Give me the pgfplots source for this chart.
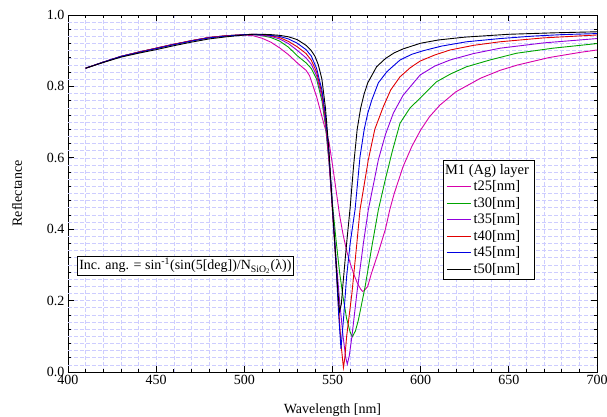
\documentclass[border=0pt]{standalone}
\usepackage{fontspec}
\setmainfont{Liberation Serif}
\usepackage{pgfplots}
\pgfplotsset{compat=1.18}
\definecolor{cmag}{RGB}{215,0,170}
\definecolor{cgreen}{RGB}{0,165,0}
\definecolor{cpurple}{RGB}{145,0,220}
\definecolor{cred}{RGB}{225,0,0}
\definecolor{cblue}{RGB}{0,0,225}
\definecolor{gridblue}{RGB}{205,205,255}
\begin{document}
\begin{tikzpicture}
\begin{axis}[name=ax, scale only axis, width=529pt, height=357pt,
  xmin=400, xmax=700, ymin=0, ymax=1,
  xtick={400,450,...,700}, ytick={0,0.2,0.4,0.6,0.8,1.0},
  minor x tick num=4, minor y tick num=4,
  tick align=inside, major tick length=6pt, minor tick length=3pt,
  axis line style={line width=0.8pt}, tick style={line width=0.7pt, black},
  grid=both,
  major grid style={dash pattern=on 4pt off 2pt, gridblue, line width=0.6pt},
  minor grid style={dash pattern=on 4pt off 2pt, gridblue, line width=0.6pt},
  extra y ticks={0.02,0.06,0.10,0.14,0.18,0.22,0.26,0.30,0.34,0.38,0.42,0.46,0.50,0.54,0.58,0.62,0.66,0.70,0.74,0.78,0.82,0.86,0.90,0.94,0.98},
  extra y tick style={grid=major, major tick length=0pt, yticklabels={}},
  /pgf/number format/assume math mode=true,
  tick label style={font=\fontsize{14}{16}\selectfont},
  yticklabel style={/pgf/number format/fixed, /pgf/number format/fixed zerofill, /pgf/number format/precision=1, /pgf/number format/assume math mode=true},
  xticklabel style={/pgf/number format/fixed, /pgf/number format/assume math mode=true},
  xlabel={Wavelength [nm]}, ylabel={Reflectance},
  label style={font=\fontsize{14}{16}\selectfont},
  xlabel style={at={(axis description cs:0.5,-0.115)}, anchor=base},
  ylabel style={at={(axis description cs:-0.0964,0.5)}, anchor=center},
  legend style={at={(0.709,0.594)}, anchor=north west, draw=black, line width=0.6pt,
    font=\fontsize{14.5}{17}\selectfont, row sep=0pt,
    nodes={inner ysep=1pt, inner xsep=2pt, text height=11pt, text depth=3.5pt}},
  legend cell align=left,
  legend image code/.code={\draw[#1, line width=1pt] (0cm,0cm) -- (0.85cm,0cm);},
  every axis plot/.append style={line width=0.9pt},
]
\addlegendimage{empty legend}
\addlegendentry{\hspace{-1.0cm}M1 (Ag) layer}
% t25 magenta
\addplot[draw=cmag] coordinates {
(410,0.851)(420,0.868)(430,0.884)(440,0.896)(450,0.907)(460,0.918)(470,0.928)(480,0.937)(490,0.942)(500,0.944)
(505,0.942)(510,0.935)(515,0.924)(520,0.908)(525,0.889)(530,0.866)(535,0.845)(537,0.830)(541,0.771)(545,0.697)
(548,0.645)(550,0.58)(552,0.51)(554,0.44)(556,0.385)(558,0.34)(560,0.305)(562,0.275)(564,0.25)(566,0.232)(567,0.226)
(568,0.228)(570,0.24)(572,0.275)(576,0.335)(580,0.40)(582.5,0.455)(585,0.50)(590,0.575)(595,0.632)(600,0.678)
(605,0.715)(611,0.748)(620,0.785)(634,0.823)(645,0.845)(655,0.86)(673,0.881)(690,0.895)(700,0.902)};
\addlegendentry{t25[nm]}
% t30 green
\addplot[draw=cgreen] coordinates {
(410,0.851)(420,0.868)(430,0.884)(440,0.896)(450,0.907)(460,0.918)(470,0.928)(480,0.937)(490,0.942)(500,0.945)
(505,0.945)(510,0.942)(515,0.937)(520,0.927)(525,0.910)(530,0.886)(535,0.866)(538,0.850)(541,0.820)(544,0.760)
(546,0.690)(548,0.590)(550,0.47)(552,0.37)(554,0.28)(556,0.21)(558,0.15)(560,0.112)(561.3,0.099)(563,0.115)
(564.7,0.146)(568.5,0.239)(572.3,0.351)(576,0.454)(580,0.54)(584,0.62)(588.3,0.697)(594,0.74)(599.7,0.767)
(609,0.813)(617,0.835)(626,0.855)(640,0.875)(654.5,0.893)(675,0.907)(700,0.920)};
\addlegendentry{t30[nm]}
% t35 purple
\addplot[draw=cpurple] coordinates {
(410,0.851)(420,0.868)(430,0.884)(440,0.896)(450,0.907)(460,0.918)(470,0.928)(480,0.937)(490,0.942)(500,0.945)
(505,0.945)(510,0.943)(515,0.940)(520,0.933)(525,0.920)(530,0.901)(535,0.880)(538,0.862)(541,0.830)(544,0.770)
(546,0.700)(548,0.590)(550,0.45)(552,0.32)(554,0.20)(556,0.10)(557.5,0.04)(558.4,0.022)(559.5,0.045)(561,0.099)
(563.8,0.22)(567.5,0.36)(570.3,0.454)(576,0.594)(580,0.665)(584.5,0.725)(590,0.775)(599.7,0.832)(608,0.857)
(616.7,0.874)(630,0.892)(645,0.907)(670,0.922)(700,0.934)};
\addlegendentry{t35[nm]}
% t40 red
\addplot[draw=cred] coordinates {
(410,0.851)(420,0.868)(430,0.884)(440,0.896)(450,0.907)(460,0.918)(470,0.928)(480,0.937)(490,0.942)(500,0.945)
(505,0.946)(510,0.945)(515,0.942)(520,0.937)(525,0.926)(530,0.911)(535,0.892)(538,0.873)(541,0.840)(544,0.780)
(546,0.710)(548,0.600)(550,0.45)(552,0.30)(554,0.14)(555,0.07)(556.2,0.012)(557,0.04)(558,0.099)(561,0.22)
(563.8,0.36)(565.6,0.454)(570.3,0.594)(574,0.68)(578.8,0.743)(583,0.79)(588.3,0.827)(594,0.852)(599.7,0.871)
(608,0.888)(616.7,0.902)(630,0.915)(645,0.925)(670,0.936)(700,0.944)};
\addlegendentry{t40[nm]}
% t45 blue
\addplot[draw=cblue] coordinates {
(410,0.851)(420,0.868)(430,0.884)(440,0.895)(450,0.906)(460,0.917)(470,0.927)(480,0.936)(490,0.941)(500,0.945)
(505,0.946)(510,0.945)(515,0.943)(520,0.940)(525,0.933)(530,0.921)(535,0.903)(538,0.885)(541,0.850)(544,0.790)
(546,0.720)(548,0.610)(550,0.46)(552,0.30)(553.5,0.16)(554.8,0.065)(556.2,0.146)(558,0.267)(560,0.36)
(562.8,0.455)(565.6,0.603)(568,0.68)(570,0.725)(572.3,0.762)(576,0.81)(580.8,0.841)(588.3,0.874)(595,0.89)
(601.5,0.900)(612,0.913)(626,0.925)(645,0.934)(664,0.941)(680,0.945)(700,0.948)};
\addlegendentry{t45[nm]}
% t50 black
\addplot[draw=black] coordinates {
(410,0.851)(420,0.867)(430,0.882)(440,0.893)(450,0.903)(460,0.914)(470,0.924)(480,0.933)(490,0.939)(500,0.944)
(505,0.946)(510,0.946)(515,0.945)(520,0.943)(525,0.939)(530,0.931)(535,0.915)(538,0.900)(540,0.885)(542,0.860)
(544,0.820)(546,0.740)(548,0.620)(550,0.46)(552,0.31)(553,0.23)(554,0.17)(555,0.19)(556,0.25)(558,0.36)
(560,0.46)(562,0.58)(564,0.68)(566,0.74)(568,0.78)(570,0.81)(575,0.855)(580,0.878)(585,0.894)(590,0.905)
(600,0.921)(610,0.930)(625,0.938)(650,0.946)(675,0.950)(700,0.953)};
\addlegendentry{t50[nm]}
\node[draw=black, line width=0.6pt, fill=white, anchor=west, inner sep=2pt,
  font=\fontsize{14}{16}\selectfont] at (rel axis cs:0.017,0.297)
  {Inc. ang. = sin\textsuperscript{-1}(sin(5[deg])/N\textsubscript{SiO\textsubscript{2}}(λ))};
\end{axis}
\pgfresetboundingbox
\path ([xshift=-68pt,yshift=-44pt]ax.south west) rectangle ++(607pt,416pt);
\end{tikzpicture}
\end{document}
